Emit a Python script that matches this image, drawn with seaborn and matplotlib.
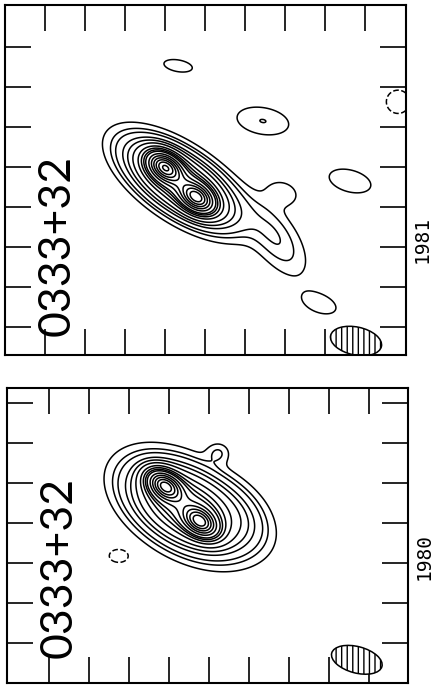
import numpy as np
import matplotlib
matplotlib.use("Agg")
import matplotlib.pyplot as plt
from matplotlib.patches import Ellipse
import seaborn as sns

sns.set_theme(style="white")
plt.rcParams['font.family'] = ['Liberation Mono', 'DejaVu Sans']
plt.rcParams['hatch.linewidth'] = 1.0

source = "0333+32"
epochs = ["1981", "1980"]

# relative contour levels (fraction of peak)
levels = [-0.01, 0.01, 0.02, 0.03, 0.05, 0.07, 0.1, 0.15, 0.2, 0.25, 0.3, 0.4, 0.5, 0.6, 0.7, 0.8, 0.9]

# 1981 map: gaussian components (x, y in tick units, amp, sigma major/minor, angle deg)
cx_81 = [4.0, 4.8, 4.4, 6.75, 6.95, 6.45, 4.33, 8.63, 7.88, 9.83]
cy_81 = [4.7, 3.93, 4.3, 2.95, 4.05, 5.85, 7.23, 4.35, 1.28, 6.33]
amp_81 = [0.65, 0.6, 0.35, 0.03, 0.018, 0.0202, 0.016, 0.016, 0.016, -0.016]
sa_81 = [0.3, 0.3, 0.85, 0.75, 0.3, 0.55, 0.37, 0.55, 0.42, 0.3]
sb_81 = [0.2, 0.2, 0.38, 0.35, 0.22, 0.28, 0.15, 0.28, 0.22, 0.3]
pa_81 = [-36, -36, -34, -55, -20, -10, -10, -15, -20, 0]

# 1980 map
cx_80 = [3.95, 4.83, 4.5, 5.8, 5.28, 2.8]
cy_80 = [4.93, 4.03, 4.4, 4.2, 5.75, 3.18]
amp_80 = [0.65, 0.6, 0.35, 0.025, 0.02, -0.016]
sa_80 = [0.3, 0.3, 0.85, 0.6, 0.2, 0.25]
sb_80 = [0.2, 0.2, 0.5, 0.4, 0.18, 0.17]
pa_80 = [-36, -36, -30, -45, 0, 0]

# beam (x, y, width, height, angle)
beam_81 = (8.78, 0.35, 1.3, 0.7, -12)
beam_80 = (8.75, 0.58, 1.3, 0.66, -15)


def make_map(xlim, ylim, cx, cy, amp, sa, sb, pa):
    x = np.linspace(xlim[0], xlim[1], 500)
    y = np.linspace(ylim[0], ylim[1], 450)
    X, Y = np.meshgrid(x, y)
    Z = np.zeros_like(X)
    for i in range(len(cx)):
        t = np.deg2rad(pa[i])
        dx = X - cx[i]
        dy = Y - cy[i]
        u = dx * np.cos(t) + dy * np.sin(t)
        v = -dx * np.sin(t) + dy * np.cos(t)
        Z += amp[i] * np.exp(-0.5 * ((u / sa[i]) ** 2 + (v / sb[i]) ** 2))
    return X, Y, Z


def draw_panel(ax, xlim, ylim, comps, beam, xt, yt, epoch, text_pos):
    X, Y, Z = make_map(xlim, ylim, *comps)
    styles = ['dashed' if l < 0 else 'solid' for l in levels]
    ax.contour(X, Y, Z, levels=levels, colors='black', linewidths=1.1, linestyles=styles)
    bx, by, bw, bh, ba = beam
    ax.add_patch(Ellipse((bx, by), bw, bh, angle=ba, facecolor='white',
                         edgecolor='black', hatch='|||', lw=1.1))
    ax.set_xlim(*xlim)
    ax.set_ylim(*ylim)
    ax.set_xticks(xt)
    ax.set_yticks(yt)
    ax.set_xticklabels([])
    ax.set_yticklabels([])
    ax.tick_params(direction='in', length=19, width=1.2, color='black',
                   top=True, right=True, bottom=True, left=True)
    for s in ax.spines.values():
        s.set_color('black')
        s.set_linewidth(1.5)
    ax.text(text_pos[0], text_pos[1], source, rotation=90, fontsize=32,
            family=['Lato', 'DejaVu Sans'],
            ha='center', va='center', transform=ax.transAxes, color='black')
    ax.text(1.04, text_pos[2], epoch, rotation=90, fontsize=14,
            family='DejaVu Sans Mono', ha='center', va='center',
            transform=ax.transAxes, color='black')


fig = plt.figure(figsize=(4.34, 6.88), dpi=100)
W, H = 434, 688
ax1 = fig.add_axes([5 / W, (H - 355) / H, 401 / W, 350 / H])
ax2 = fig.add_axes([7 / W, (H - 683) / H, 401 / W, 295 / H])

draw_panel(ax1, (0, 10.03), (0, 8.75),
           (cx_81, cy_81, amp_81, sa_81, sb_81, pa_81), beam_81,
           np.arange(1, 10), np.arange(0.7, 8, 1.0), epochs[0], (0.13, 0.314, 0.33))
draw_panel(ax2, (0, 10.03), (0, 7.375),
           (cx_80, cy_80, amp_80, sa_80, sb_80, pa_80), beam_80,
           np.arange(1.05, 10, 1.0), np.arange(1, 7.5, 1.0), epochs[1], (0.13, 0.393, 0.43))

fig.savefig("out.png", dpi=100)
